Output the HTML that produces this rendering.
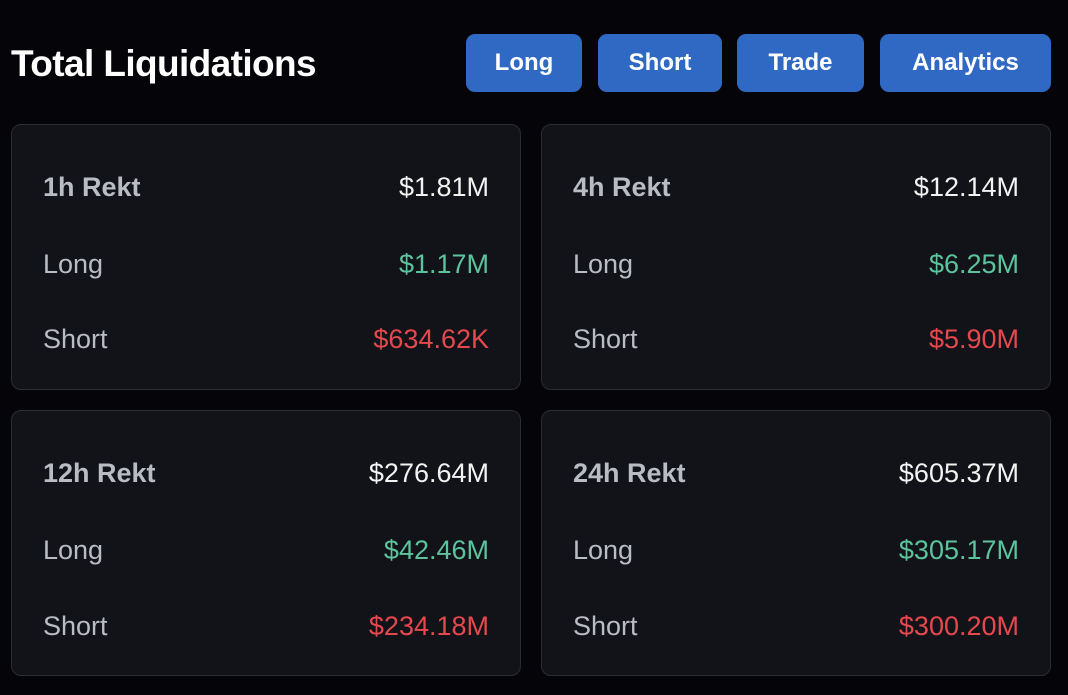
<!DOCTYPE html>
<html><head><style>
body{margin:0;width:1068px;height:695px;background:#050509;font-family:"Liberation Sans",sans-serif;position:relative;overflow:hidden}
.t{position:absolute;left:11px;top:43px;font-size:37px;font-weight:bold;color:#fff;letter-spacing:-0.6px}
.b{position:absolute;top:34px;height:58px;background:#2f69c4;border-radius:9px;color:#fff;font-weight:bold;font-size:24px;display:flex;align-items:center;justify-content:center}
.c{position:absolute;width:508px;height:264px;background:#111318;border:1px solid #2a2d33;border-radius:10px}
.r{position:absolute;left:31px;right:31px;display:flex;justify-content:space-between;font-size:27px;height:32px;line-height:32px}
.l{color:#b9bcc3}.v{color:#f2f2f2}.g{color:#5cc39c}.s{color:#e5484d}
</style></head><body>
<div class="t">Total Liquidations</div>
<div class="b" style="left:466px;width:116px">Long</div>
<div class="b" style="left:598px;width:124px">Short</div>
<div class="b" style="left:737px;width:127px">Trade</div>
<div class="b" style="left:880px;width:171px">Analytics</div>

<div class="c" style="left:11px;top:124px">
<div class="r" style="top:46px"><span class="l" style="font-weight:bold">1h Rekt</span><span class="v">$1.81M</span></div>
<div class="r" style="top:123px"><span class="l">Long</span><span class="g">$1.17M</span></div>
<div class="r" style="top:198px"><span class="l">Short</span><span class="s">$634.62K</span></div>
</div>
<div class="c" style="left:541px;top:124px">
<div class="r" style="top:46px"><span class="l" style="font-weight:bold">4h Rekt</span><span class="v">$12.14M</span></div>
<div class="r" style="top:123px"><span class="l">Long</span><span class="g">$6.25M</span></div>
<div class="r" style="top:198px"><span class="l">Short</span><span class="s">$5.90M</span></div>
</div>
<div class="c" style="left:11px;top:410px">
<div class="r" style="top:46px"><span class="l" style="font-weight:bold">12h Rekt</span><span class="v">$276.64M</span></div>
<div class="r" style="top:123px"><span class="l">Long</span><span class="g">$42.46M</span></div>
<div class="r" style="top:199px"><span class="l">Short</span><span class="s">$234.18M</span></div>
</div>
<div class="c" style="left:541px;top:410px">
<div class="r" style="top:46px"><span class="l" style="font-weight:bold">24h Rekt</span><span class="v">$605.37M</span></div>
<div class="r" style="top:123px"><span class="l">Long</span><span class="g">$305.17M</span></div>
<div class="r" style="top:199px"><span class="l">Short</span><span class="s">$300.20M</span></div>
</div>
</body></html>
